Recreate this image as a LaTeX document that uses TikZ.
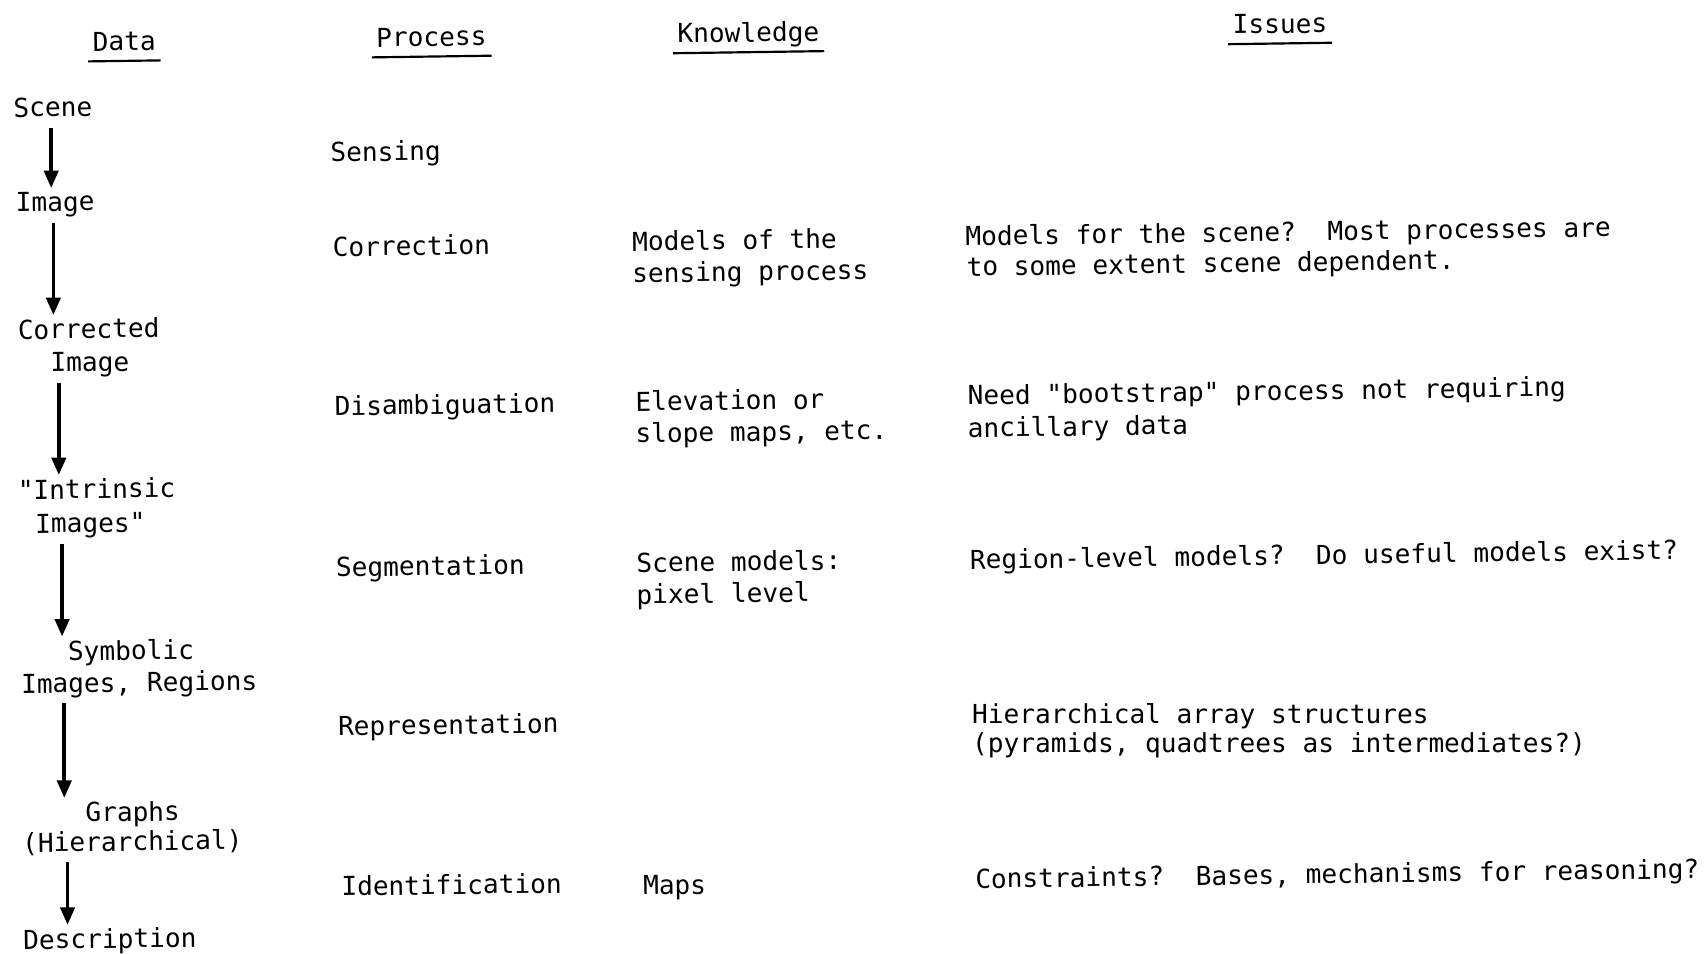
\documentclass[tikz,border=0pt]{standalone}
\usepackage{fontspec}
\setmonofont{DejaVu Sans Mono}
\usetikzlibrary{arrows.meta}
\tikzset{
  txt/.style={anchor=west, inner sep=0pt, text height=9pt, text depth=2.5pt,
    font=\ttfamily\fontsize{12}{14}\selectfont, rotate=0.8, yshift=-1.5pt},
  flat/.style={txt, rotate=-0.8},
  hdr/.style={txt, anchor=center, inner xsep=2pt, inner ysep=2pt},
  arr/.style={line width=1.7pt, -{Triangle[length=8pt,width=6.5pt]},
    shorten <=2.5pt, shorten >=1.5pt},
  uline/.style={line width=1pt}
}
\begin{document}
\begin{tikzpicture}[x=0.5pt, y=-0.5pt]
\useasboundingbox (0,0) rectangle (1568,875);
% headers
\node[hdr] (hdata) at (114,37) {Data};
\node[hdr] (hproc) at (396,33) {Process};
\node[hdr] (hknow) at (687,29) {Knowledge};
\node[hdr] (hiss) at (1175,21) {Issues};
\foreach \h in {hdata,hproc,hknow,hiss}
  \draw[uline] (\h.south west) -- (\h.south east);
% data column
\node[txt] (scene) at (12,98) {Scene};
\node[txt] (image) at (14,185) {Image};
\node[txt] (corr1) at (16,302) {Corrected};
\node[txt] (corr2) at (46,332) {Image};
\node[txt] (intr1) at (16,449) {"Intrinsic};
\node[txt] (intr2) at (32,480) {Images"};
\node[txt] (symb1) at (62,597) {Symbolic};
\node[txt] (symb2) at (19,627) {Images, Regions};
\node[txt] (graph1) at (78,745) {Graphs};
\node[txt] (graph2) at (20,773) {(Hierarchical)};
\node[txt] (desc) at (21,862) {Description};
\draw[arr] (47,0 |- scene.south) -- (47,0 |- image.north);
\draw[arr] (49,0 |- image.south) -- (49,0 |- corr1.north);
\draw[arr] (54,0 |- corr2.south) -- (54,0 |- intr1.north);
\draw[arr] (57,0 |- intr2.south) -- (57,0 |- symb1.north);
\draw[arr] (59,0 |- symb2.south) -- (59,0 |- graph1.north);
\draw[arr] (62,0 |- graph2.south) -- (62,0 |- desc.north);
% process column
\node[txt] (p1) at (303,139) {Sensing};
\node[txt] (p2) at (305,226) {Correction};
\node[txt] (p3) at (307,372) {Disambiguation};
\node[txt] (p4) at (308,520) {Segmentation};
\node[txt] (p5) at (310,666) {Representation};
\node[txt] (p6) at (313,813) {Identification};
% knowledge column
\node[txt] (k1a) at (580,221) {Models of the};
\node[txt] (k1b) at (580,250) {sensing process};
\node[txt] (k2a) at (583,368) {Elevation or};
\node[txt] (k2b) at (583,397) {slope maps, etc.};
\node[txt] (k3a) at (584,516) {Scene models:};
\node[txt] (k3b) at (584,545) {pixel level};
\node[txt] (k4) at (590,812) {Maps};
% issues column
\node[txt] (i1a) at (886,216) {Models for the scene?~ Most processes are};
\node[txt] (i1b) at (887,244) {to some extent scene dependent.};
\node[txt] (i2a) at (888,362) {Need "bootstrap" process not requiring};
\node[txt] (i2b) at (888,392) {ancillary data};
\node[txt] (i3) at (890,513) {Region-level models?~ Do useful models exist?};
\node[txt, rotate=-0.8] (i4a) at (892,655) {Hierarchical array structures};
\node[txt, rotate=-0.8] (i4b) at (892,681) {(pyramids, quadtrees as intermediates?)};
\node[txt] (i5) at (895,806) {Constraints?~ Bases, mechanisms for reasoning?};
\end{tikzpicture}
\end{document}
